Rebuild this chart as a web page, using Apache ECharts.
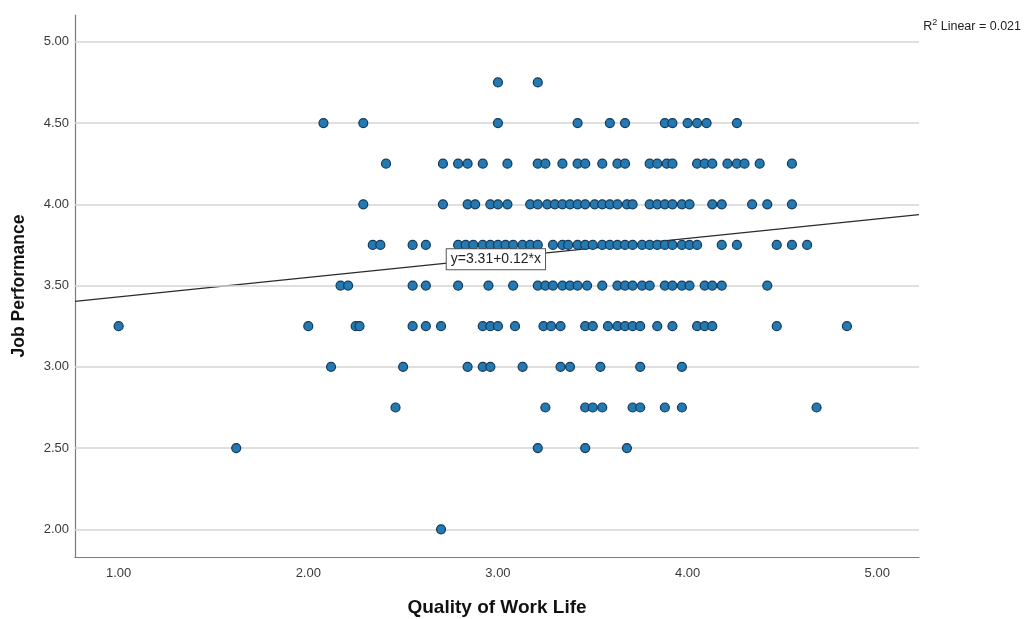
<!DOCTYPE html>
<html>
<head>
<meta charset="utf-8">
<script src="https://cdn.jsdelivr.net/npm/echarts@6/dist/echarts.min.js"></script>
<style>
html,body{margin:0;padding:0;background:#fff;}
#chart{width:1025px;height:619px;}
</style>
</head>
<body>
<div id="chart"></div>
<script>
// Quality of Work Life values for each Job Performance level
const perf475 = [3.00, 3.21];
const perf450 = [2.08, 2.29, 3.00, 3.42, 3.59, 3.67, 3.88, 3.92, 4.00, 4.05, 4.10, 4.26];
const perf425 = [2.41, 2.71, 2.79, 2.84, 2.92, 3.05, 3.21, 3.25, 3.34, 3.42, 3.46, 3.55, 3.63, 3.67, 3.80, 3.84, 3.89, 3.92, 4.05, 4.09, 4.13, 4.21, 4.26, 4.30, 4.38, 4.55];
const perf400 = [2.29, 2.71, 2.84, 2.88, 2.96, 3.00, 3.05, 3.17, 3.21, 3.26, 3.30, 3.34, 3.38, 3.42, 3.46, 3.51, 3.55, 3.59, 3.63, 3.68, 3.71, 3.80, 3.84, 3.88, 3.92, 3.97, 4.01, 4.13, 4.18, 4.34, 4.42, 4.55];
const perf375 = [2.34, 2.38, 2.55, 2.62, 2.79, 2.83, 2.87, 2.92, 2.96, 3.00, 3.04, 3.08, 3.13, 3.17, 3.21, 3.29, 3.34, 3.37, 3.42, 3.46, 3.50, 3.55, 3.59, 3.63, 3.67, 3.71, 3.76, 3.80, 3.84, 3.88, 3.92, 3.97, 4.01, 4.05, 4.18, 4.26, 4.47, 4.55, 4.63];
const perf350 = [2.17, 2.21, 2.55, 2.62, 2.79, 2.95, 3.08, 3.21, 3.25, 3.29, 3.34, 3.38, 3.42, 3.47, 3.55, 3.63, 3.67, 3.71, 3.76, 3.80, 3.88, 3.92, 3.97, 4.01, 4.09, 4.13, 4.18, 4.42];
const perf325 = [1.00, 2.00, 2.25, 2.27, 2.55, 2.62, 2.70, 2.92, 2.96, 3.00, 3.09, 3.24, 3.28, 3.33, 3.46, 3.50, 3.58, 3.63, 3.67, 3.71, 3.75, 3.84, 3.92, 4.05, 4.09, 4.13, 4.47, 4.84];
const perf300 = [2.12, 2.50, 2.84, 2.92, 2.96, 3.13, 3.33, 3.38, 3.54, 3.75, 3.97];
const perf275 = [2.46, 3.25, 3.46, 3.50, 3.55, 3.71, 3.75, 3.88, 3.97, 4.68];
const perf250 = [1.62, 3.21, 3.46, 3.68];
const perf200 = [2.70];

const perfLevels = [4.75, 4.50, 4.25, 4.00, 3.75, 3.50, 3.25, 3.00, 2.75, 2.50, 2.00];
const perfRows = [perf475, perf450, perf425, perf400, perf375, perf350, perf325, perf300, perf275, perf250, perf200];

const xTicks = [1, 2, 3, 4, 5];
const yTicks = [2.0, 2.5, 3.0, 3.5, 4.0, 4.5, 5.0];
const xRange = [0.77, 5.22];
const yRange = [1.83, 5.165];

const fitIntercept = 3.31;
const fitSlope = 0.12;
const fitLabel = 'y=3.31+0.12*x';
const r2Value = '0.021';

const points = [];
perfRows.forEach((row, i) => row.forEach(x => points.push([x, perfLevels[i]])));

const fitLine = xRange.map(x => [x, fitIntercept + fitSlope * x]);
const labelX = 2.73;

const FONT = 'Liberation Sans, Arial, sans-serif';

const chart = echarts.init(document.getElementById('chart'), null, {renderer: 'canvas'});
chart.setOption({
  animation: false,
  backgroundColor: '#ffffff',
  grid: {left: 75, right: 106, top: 15, bottom: 62, containLabel: false, outerBoundsMode: 'none'},
  xAxis: {
    type: 'value', min: xRange[0], max: xRange[1],
    name: 'Quality of Work Life', nameLocation: 'middle', nameGap: 41,
    nameTextStyle: {fontFamily: FONT, fontSize: 19, fontWeight: 'bold', color: '#111'},
    axisLine: {show: true, lineStyle: {color: '#7a7a7a', width: 1.2}},
    axisTick: {show: false},
    splitLine: {show: false},
    axisLabel: {
      fontFamily: FONT, fontSize: 13, color: '#3a3a3a', margin: 10,
      customValues: xTicks,
      formatter: v => Number(v).toFixed(2)
    }
  },
  yAxis: {
    type: 'value', min: yRange[0], max: yRange[1],
    name: 'Job Performance', nameLocation: 'middle', nameGap: 47, nameRotate: 90,
    nameTextStyle: {fontFamily: FONT, fontSize: 17.5, fontWeight: 'bold', color: '#111'},
    axisLine: {show: true, lineStyle: {color: '#7a7a7a', width: 1.2}},
    axisTick: {show: false},
    splitLine: {show: false},
    axisLabel: {
      fontFamily: FONT, fontSize: 13, color: '#3a3a3a', margin: 6,
      customValues: yTicks,
      formatter: v => Number(v).toFixed(2)
    }
  },
  series: [
    {
      type: 'line', data: [], silent: true, z: 1,
      markLine: {
        silent: true, symbol: 'none', label: {show: false},
        lineStyle: {color: '#d4d4d4', width: 1.5, type: 'solid'},
        data: yTicks.map(v => ({yAxis: v}))
      }
    },
    {
      type: 'line', data: fitLine, showSymbol: false, silent: true, z: 2,
      lineStyle: {color: '#2b2b2b', width: 1.2},
      markPoint: {
        symbol: 'circle', symbolSize: 0, z: 10,
        data: [{coord: [labelX, fitIntercept + fitSlope * labelX + 0.025]}],
        label: {
          show: true, position: 'right', distance: 0,
          formatter: fitLabel,
          fontFamily: FONT, fontSize: 14, color: '#222',
          backgroundColor: '#ffffff', borderColor: '#555', borderWidth: 1,
          padding: [3, 4, 3, 4]
        }
      }
    },
    {
      type: 'scatter', data: points, symbol: 'circle', symbolSize: 9, z: 5,
      itemStyle: {color: '#2479b0', borderColor: '#143a5c', borderWidth: 1.2, opacity: 1}
    }
  ],
  graphic: [{
    type: 'text', right: 4, top: 18, z: 20,
    style: {
      text: 'R{sup|2} Linear = ' + r2Value,
      fontFamily: FONT, fontSize: 12.5, fill: '#222',
      rich: {sup: {fontSize: 9, verticalAlign: 'top', padding: [0, 0, 8, 0], fontFamily: FONT, fill: '#222'}}
    }
  }]
});
</script>
</body>
</html>
